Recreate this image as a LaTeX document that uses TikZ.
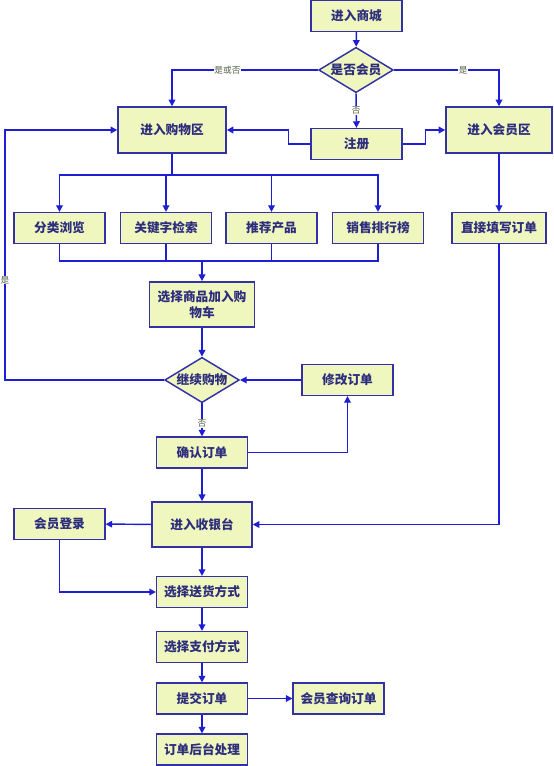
\documentclass[tikz,border=0pt]{standalone}
\usepackage{fontspec}
\setmainfont{Noto Sans CJK SC}
\usetikzlibrary{
    arrows.meta,
    shapes.geometric,
    positioning
}
\definecolor{boxfill}{RGB}{240,247,190}
\definecolor{boxline}{RGB}{50,50,165}
\definecolor{flowline}{RGB}{30,30,210}
\definecolor{boxtext}{RGB}{45,45,125}
\definecolor{tagtext}{RGB}{85,95,70}

\begin{document}
\begin{tikzpicture}[x=0.75pt, y=-0.75pt,
    procbox/.style={draw=boxline, fill=boxfill, line width=1.1pt, inner sep=1pt,
        minimum width=68pt, minimum height=23pt, align=center, text=boxtext,
        font=\fontsize{9.5pt}{12pt}\selectfont\bfseries},
    decision/.style={diamond, aspect=1.65, draw=boxline, fill=boxfill, line width=1.1pt, inner sep=0pt,
        minimum width=56pt, minimum height=34pt, text=boxtext,
        font=\fontsize{9.5pt}{12pt}\selectfont\bfseries},
    flow/.style={draw=flowline, line width=1.1pt, -{Triangle[length=5pt, width=5pt]}},
    yesno/.style={fill=white, inner sep=0.5pt, text=tagtext, font=\fontsize{6.5pt}{7pt}\selectfont}
]
\useasboundingbox (0, 0) rectangle (553, 766);
                                % upper part
                                \node[procbox] (mall) at (356.5, 16) {进入商城};
                                \node[decision] (member) at (356, 70) {是否会员};
                                \node[procbox, minimum width=81pt, minimum height=34.5pt] (shop) at (172, 130) {进入购物区};
                                \node[procbox] (reg) at (356.5, 144) {注册};
                                \node[procbox, minimum width=79.5pt, minimum height=34.5pt] (vip) at (499, 130) {进入会员区};
                                \node[procbox] (browse) at (59.5, 228) {分类浏览};
                                \node[procbox] (search) at (166, 228) {关键字检索};
                                \node[procbox] (recom) at (271.5, 228) {推荐产品};
                                \node[procbox] (rank) at (378, 228) {销售排行榜};
                                \node[procbox, minimum width=70.5pt] (direct) at (499, 228) {直接填写订单};
                                \coordinate (bus) at (172, 175);
                                \coordinate (join) at (202, 261);
                                \coordinate (loop) at (5, 380);
                                % middle part
                                \node[procbox, minimum width=79pt, minimum height=34pt] (cart) at (202, 304.5) {选择商品加入购\\物车};
                                \node[decision] (again) at (202, 380) {继续购物};
                                \node[procbox] (modify) at (347.5, 380) {修改订单};
                                \node[procbox] (confirm) at (202, 452.5) {确认订单};
                                % lower part
                                \node[procbox, minimum width=75pt, minimum height=34pt] (cashier) at (202, 524.5) {进入收银台};
                                \node[procbox] (login) at (59.5, 524) {会员登录};
                                \node[procbox] (ship) at (202, 592) {选择送货方式};
                                \node[procbox] (pay) at (202, 647) {选择支付方式};
                                \node[procbox] (submit) at (202, 698.5) {提交订单};
                                \node[procbox] (query) at (338.5, 698.5) {会员查询订单};
                                \node[procbox] (back) at (202, 749.5) {订单后台处理};
                                \draw[flow] (mall) -- (member);
                                \draw[flow] (member.west) -| node[yesno, pos=0.31] {是或否} (shop.north);
                                \draw[flow] (member.east) -| node[yesno, pos=0.33] {是} (vip.north);
                                \draw[flow] (member.south) -- node[yesno, pos=0.5] {否} (reg.north);
                                \draw[flow] (reg.west) -- ++(-22, 0) |- (shop.east);
                                \draw[flow] (reg.east) -- ++(23, 0) |- (vip.west);
                                \draw[flow] (shop.south) -- (bus) -| (browse.north);
                                \draw[flow] (bus) -| (search.north);
                                \draw[flow] (bus) -| (recom.north);
                                \draw[flow] (bus) -| (rank.north);
                                \draw[flow] (vip) -- (direct);
                                \draw[flow, -] (browse.south) |- (join);
                                \draw[flow, -] (search.south) |- (join);
                                \draw[flow, -] (recom.south) |- (join);
                                \draw[flow, -] (rank.south) |- (join);
                                \draw[flow] (join) -- (cart.north);
                                \draw[flow] (cart) -- (again);
                                \draw[flow] (again.west) -- (loop) |- node[yesno, pos=0.2] {是} (shop.west);
                                \draw[flow] (modify) -- (again);
                                \draw[flow] (again.south) -- node[yesno, pos=0.6] {否} (confirm.north);
                                \draw[flow] (confirm.east) -| (modify.south);
                                \draw[flow] (confirm) -- (cashier);
                                \draw[flow] (direct.south) |- (cashier.east);
                                \draw[flow] (cashier) -- (login);
                                \draw[flow] (login.south) |- (ship.west);
                                \draw[flow] (cashier) -- (ship);
                                \draw[flow] (ship) -- (pay);
                                \draw[flow] (pay) -- (submit);
                                \draw[flow] (submit) -- (back);
                                \draw[flow] (submit) -- (query);
                            \end{tikzpicture}
\end{document}
